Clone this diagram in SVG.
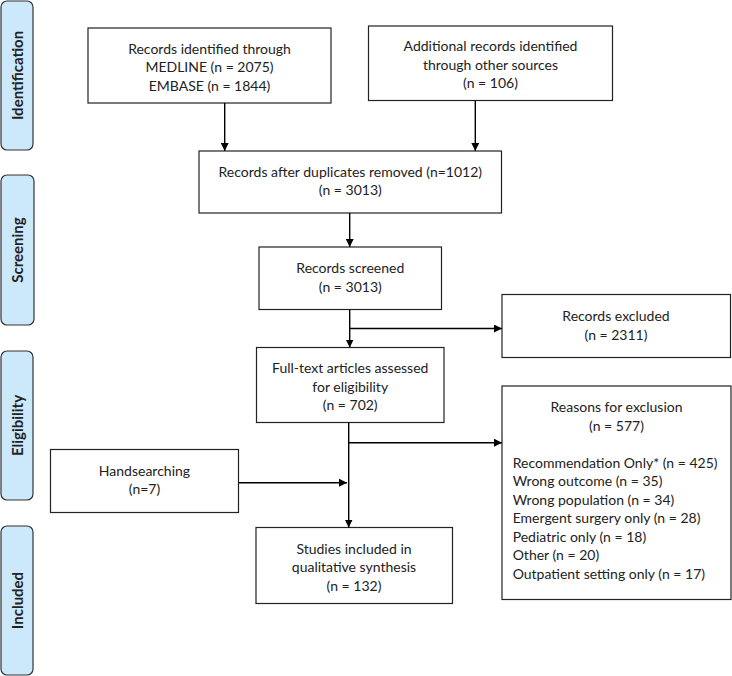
<svg xmlns="http://www.w3.org/2000/svg" width="732" height="676" viewBox="0 0 732 676">
<defs>
<marker id="ah" viewBox="0 0 10 10" refX="10" refY="5" markerWidth="8" markerHeight="8" markerUnits="userSpaceOnUse" orient="auto">
<path d="M0,0 L10,5 L0,10 z" fill="#000"/>
</marker>
<style>
.box{fill:#fff;stroke:#222;stroke-width:1.2}
.side{fill:#cce8fb;stroke:#333;stroke-width:1.2}
text{font-family:Lato,"Open Sans","Liberation Sans",sans-serif;font-size:14px;fill:#222}
.c{text-anchor:middle}
.s{font-weight:bold;font-size:15px;text-anchor:middle}
.ln{stroke:#000;stroke-width:1.4;fill:none}
.ar{stroke:#000;stroke-width:1.4;fill:none;marker-end:url(#ah)}
</style>
</defs>
<rect width="732" height="676" fill="#fff"/>
<g id="side-identification"><rect class="side" x="1" y="1" width="32" height="149" rx="6"/><text class="s" transform="translate(23,75.5) rotate(-90)">Identification</text></g>
<g id="side-screening"><rect class="side" x="1" y="175" width="33" height="150" rx="6"/><text class="s" transform="translate(23,250) rotate(-90)">Screening</text></g>
<g id="side-eligibility"><rect class="side" x="1" y="351" width="32" height="149" rx="6"/><text class="s" transform="translate(23,425.5) rotate(-90)">Eligibility</text></g>
<g id="side-included"><rect class="side" x="1" y="526" width="32" height="149" rx="6"/><text class="s" transform="translate(23,600.5) rotate(-90)">Included</text></g>

<g id="n-identified"><rect class="box" x="88" y="28" width="243" height="75"/>
<text class="c" x="209.5" y="53.5">Records identified through</text>
<text class="c" x="209.5" y="72">MEDLINE (n = 2075)</text>
<text class="c" x="209.5" y="91">EMBASE (n = 1844)</text></g>
<g id="n-additional"><rect class="box" x="368.5" y="26" width="244" height="74.5"/>
<text class="c" x="490.5" y="51">Additional records identified</text>
<text class="c" x="490.5" y="69.5">through other sources</text>
<text class="c" x="490.5" y="88">(n = 106)</text></g>
<g id="n-dedup"><rect class="box" x="199" y="151" width="302.5" height="62"/>
<text class="c" x="350.3" y="177">Records after duplicates removed (n=1012)</text>
<text class="c" x="350.3" y="195">(n = 3013)</text></g>
<g id="n-screened"><rect class="box" x="259" y="247" width="182.5" height="62.5"/>
<text class="c" x="350.3" y="272.5">Records screened</text>
<text class="c" x="350.3" y="291.5">(n = 3013)</text></g>
<g id="n-excluded"><rect class="box" x="502" y="294.5" width="228.5" height="63"/>
<text class="c" x="616" y="320.5">Records excluded</text>
<text class="c" x="616" y="339.5">(n = 2311)</text></g>
<g id="n-fulltext"><rect class="box" x="256.5" y="347.5" width="187.5" height="75"/>
<text class="c" x="350.2" y="373">Full-text articles assessed</text>
<text class="c" x="350.2" y="391.5">for eligibility</text>
<text class="c" x="350.2" y="410">(n = 702)</text></g>
<g id="n-reasons"><rect class="box" x="502" y="386" width="229" height="213.5"/>
<text class="c" x="616.5" y="411.5">Reasons for exclusion</text>
<text class="c" x="616.5" y="430.5">(n = 577)</text>
<text x="512.7" y="467.5">Recommendation Only* (n = 425)</text>
<text x="512.7" y="486">Wrong outcome (n = 35)</text>
<text x="512.7" y="504.5">Wrong population (n = 34)</text>
<text x="512.7" y="523">Emergent surgery only (n = 28)</text>
<text x="512.7" y="541.5">Pediatric only (n = 18)</text>
<text x="512.7" y="560">Other (n = 20)</text>
<text x="512.7" y="578.5">Outpatient setting only (n = 17)</text></g>
<g id="n-hand"><rect class="box" x="50.5" y="449.5" width="188" height="63"/>
<text class="c" x="144.5" y="475.5">Handsearching</text>
<text class="c" x="144.5" y="494">(n=7)</text></g>
<g id="n-included"><rect class="box" x="256" y="527.5" width="196.5" height="76"/>
<text class="c" x="354" y="553.5">Studies included in</text>
<text class="c" x="354" y="572">qualitative synthesis</text>
<text class="c" x="354" y="590.5">(n = 132)</text></g>

<g id="connectors">
<line class="ar" x1="224.7" y1="103" x2="224.7" y2="151"/>
<line class="ar" x1="475.3" y1="100.5" x2="475.3" y2="151"/>
<line class="ar" x1="349.7" y1="213" x2="349.7" y2="247"/>
<line class="ar" x1="349.7" y1="309.5" x2="349.7" y2="347.5"/>
<line class="ar" x1="349.7" y1="328.5" x2="502" y2="328.5"/>
<line class="ar" x1="348.7" y1="422.5" x2="348.7" y2="527.5"/>
<line class="ar" x1="348.7" y1="442.7" x2="502" y2="442.7"/>
<line class="ar" x1="238.5" y1="482.7" x2="347" y2="482.7"/>
</g>
</svg>
